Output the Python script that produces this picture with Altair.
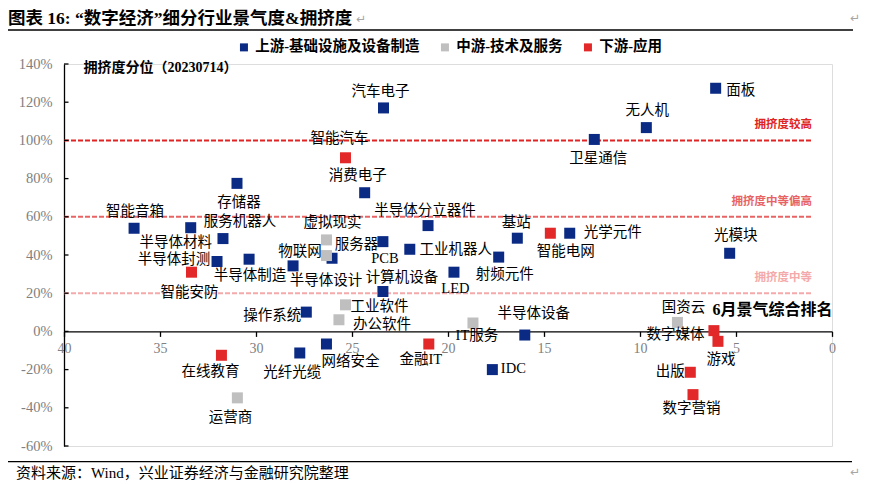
import altair as alt
import pandas as pd

# ---------------- data ----------------
up_names = ["面板", "无人机", "卫星通信", "汽车电子", "消费电子", "存储器", "智能音箱", "半导体材料",
            "服务机器人", "半导体封测", "半导体制造", "物联网", "半导体设计", "半导体分立器件", "PCB",
            "工业机器人", "射频元件", "基站", "光学元件", "光模块", "计算机设备", "LED", "操作系统",
            "光纤光缆", "网络安全", "半导体设备", "IDC"]
up_rank = [6.06, 9.67, 12.38, 23.36, 24.34, 30.99, 36.35, 33.40, 31.72, 32.03, 30.36, 28.07, 26.04,
           21.04, 23.39, 21.99, 17.36, 16.39, 13.66, 5.33, 23.39, 19.69, 27.38, 27.72, 26.33, 16.0, 17.69]
up_crowd = [127.3, 106.7, 100.5, 117.0, 72.6, 77.5, 54.0, 54.3, 48.6, 36.6, 37.8, 34.3, 38.3,
            55.4, 47.0, 43.0, 38.9, 48.8, 51.4, 40.9, 20.9, 31.0, 10.1, -11.3, -6.6, -1.9, -20.0]

mid_names = ["虚拟现实", "服务器", "工业软件", "办公软件", "IT服务", "国资云", "运营商"]
mid_rank = [26.33, 26.33, 25.34, 25.68, 18.70, 8.05, 30.97]
mid_crowd = [47.9, 39.7, 13.9, 6.1, 4.4, 4.7, -34.8]

down_names = ["智能汽车", "智能安防", "智能电网", "在线教育", "金融IT", "数字媒体", "游戏", "出版", "数字营销"]
down_rank = [25.34, 33.36, 14.67, 31.80, 21.0, 6.15, 5.94, 7.38, 7.24]
down_crowd = [90.9, 31.0, 51.4, -12.5, -6.6, 0.4, -5.2, -21.4, -33.1]

group_names = ["上游-基础设施及设备制造", "中游-技术及服务", "下游-应用"]
group_colors = ["#0A2A84", "#BFBFBF", "#E22828"]

levels = [100, 60, 20]
level_texts = ["拥挤度较高", "拥挤度中等偏高", "拥挤度中等"]
level_colors = ["#E02424", "#E86464", "#F4AAAA"]

y_ticks = [-60, -40, -20, 0, 20, 40, 60, 80, 100, 120, 140]
x_ticks = [0, 5, 10, 15, 20, 25, 30, 35, 40]

title_text = "图表 16: “数字经济”细分行业景气度&拥挤度"
source_text = "资料来源：Wind，兴业证券经济与金融研究院整理"
y_title = "拥挤度分位（20230714）"
x_title = "6月景气综合排名"

# label placement (pixel offsets of the label centre from its square) - style only
label_offsets = {
    "面板": (25, 3), "无人机": (1, -17), "卫星通信": (4, 20), "汽车电子": (-3, -16), "消费电子": (-7, -17),
    "存储器": (2, 20), "智能音箱": (1, -16), "半导体材料": (-15, 15), "服务机器人": (17, -17),
    "半导体封测": (-43, -1), "半导体制造": (1, 17), "物联网": (7, -14), "半导体设计": (-6, 23),
    "半导体分立器件": (-3, -15), "PCB": (2, 17), "工业机器人": (46, 1), "射频元件": (6, 18), "基站": (-1, -15),
    "光学元件": (43, 0), "光模块": (6, -17), "计算机设备": (19, -13), "LED": (1.5, 17), "操作系统": (-34, 4),
    "光纤光缆": (-7.5, 20), "网络安全": (24, 18), "半导体设备": (9, -21), "IDC": (21, -1),
    "虚拟现实": (6, -17), "服务器": (30, -11), "工业软件": (34, 2), "办公软件": (43, 5), "IT服务": (4, 13),
    "国资云": (6, -14), "运营商": (-7, 20), "智能汽车": (-6, -19), "智能安防": (-2, 21),
    "智能电网": (15.5, 19), "在线教育": (-11, 17), "金融IT": (-8, 16), "数字媒体": (-38.5, 4),
    "游戏": (3, 19), "出版": (-20, 0), "数字营销": (-1.5, 14),
}

# ---------------- layout ----------------
W, H = 768, 382
X_DOM = [0, 40]
Y_DOM = [-60, 140]
FONT = "Liberation Serif, Noto Sans CJK SC"

rows = []
for g, ns, xs_, ys_ in [(group_names[0], up_names, up_rank, up_crowd),
                        (group_names[1], mid_names, mid_rank, mid_crowd),
                        (group_names[2], down_names, down_rank, down_crowd)]:
    for n, xv, yv in zip(ns, xs_, ys_):
        rows.append({"name": n, "group": g, "rank": xv, "crowd": yv})
df = pd.DataFrame(rows)
px_x = (X_DOM[1] - X_DOM[0]) / W
px_y = (Y_DOM[1] - Y_DOM[0]) / H
df["lx"] = [r - label_offsets[n][0] * px_x for n, r in zip(df["name"], df["rank"])]
df["ly"] = [c - label_offsets[n][1] * px_y for n, c in zip(df["name"], df["crowd"])]

xs = alt.Scale(domain=X_DOM, reverse=True, nice=False, zero=False)
ys = alt.Scale(domain=Y_DOM, nice=False, zero=False)

x_axis_offset = -H * (0 - Y_DOM[0]) / (Y_DOM[1] - Y_DOM[0])

x_axis = alt.Axis(
    values=x_ticks, offset=x_axis_offset, tickSize=5, tickColor="black", tickWidth=1.3,
    domainColor="black", domainWidth=1.3, labelPadding=5, labelColor="#808080",
    labelFont="Liberation Serif", labelFontSize=14, labelFlush=False, grid=False,
    title=x_title, titleX=708, titleY=-22, titleAlign="center", titleBaseline="middle",
    titleFont=FONT, titleFontSize=16, titleFontWeight="bold", titleColor="black")
y_axis = alt.Axis(
    values=y_ticks, labelExpr="datum.value + '%'", ticks=False, labelPadding=12,
    domainColor="black", domainWidth=1.3, labelColor="#808080", labelFont="Liberation Serif",
    labelFontSize=14.5, labelFlush=False, grid=False,
    title=y_title, titleAngle=0, titleAlign="left", titleBaseline="middle", titleX=19, titleY=3,
    titleFont=FONT, titleFontSize=14, titleFontWeight="bold", titleColor="black")

lev_df = pd.DataFrame({"level": levels, "label": level_texts, "color": level_colors})

ref_rules = alt.Chart(lev_df).mark_rule(strokeDash=[5, 2], strokeWidth=2).encode(
    y=alt.Y("level:Q", scale=ys, axis=y_axis),
    x=alt.value(0), x2=alt.value(748),
    stroke=alt.Stroke("color:N", scale=None),
)
ref_text = alt.Chart(lev_df).mark_text(align="right", baseline="middle", dy=-15, font="Noto Sans CJK SC",
                                       fontSize=11.5, fontWeight="bold").encode(
    y=alt.Y("level:Q", scale=ys, axis=y_axis),
    x=alt.value(748),
    text="label:N",
    fill=alt.Fill("color:N", scale=None),
)

yt_df = pd.DataFrame({"v": y_ticks})
y_tick_marks = alt.Chart(yt_df).mark_rule(color="black", strokeWidth=1.3).encode(
    y=alt.Y("v:Q", scale=ys, axis=y_axis), x=alt.value(0), x2=alt.value(4.5)
)

squares = alt.Chart(df).mark_square(size=121, opacity=1, filled=True).encode(
    x=alt.X("rank:Q", scale=xs, axis=x_axis),
    y=alt.Y("crowd:Q", scale=ys, axis=y_axis),
    color=alt.Color("group:N", scale=alt.Scale(domain=group_names, range=group_colors),
                    legend=alt.Legend(title=None, orient="none", legendX=172.7, legendY=-24,
                                      direction="horizontal", symbolType="square", symbolSize=64,
                                      symbolStrokeWidth=0, labelFont=FONT, labelFontSize=14.5,
                                      labelFontWeight="bold", labelColor="black", labelOffset=4,
                                      columnPadding=18, labelLimit=400, padding=0)),
)

labels = alt.Chart(df).mark_text(font=FONT, fontSize=14.5, color="black", baseline="middle",
                                 align="center").encode(
    x=alt.X("lx:Q", scale=xs, axis=x_axis),
    y=alt.Y("ly:Q", scale=ys, axis=y_axis),
    text="name:N",
)

def deco_text(txt, x, y, **kw):
    return alt.Chart(pd.DataFrame({"t": [txt]})).mark_text(**kw).encode(
        text="t:N", x=alt.value(x), y=alt.value(y))

title = deco_text(title_text, -56, -45, font=FONT, fontSize=17.5, fontWeight="bold",
                  align="left", baseline="middle", color="black")
source = deco_text(source_text, -48, 409, font=FONT, fontSize=15, align="left",
                   baseline="middle", color="black")
ret1 = deco_text("↵", 791, -46, font="DejaVu Sans", fontSize=12, color="#A6A6A6", baseline="middle")
ret2 = deco_text("↵", 791, 408, font="DejaVu Sans", fontSize=12, color="#A6A6A6", baseline="middle")
ret3 = deco_text("↵", 297, -45, font="DejaVu Sans", fontSize=12, color="#A6A6A6", baseline="middle")

line_df = pd.DataFrame({"k": [0]})
top_line = alt.Chart(line_df).mark_rule(color="black", strokeWidth=1.5).encode(
    x=alt.value(-56), x2=alt.value(789), y=alt.value(-34))
bot_line = alt.Chart(line_df).mark_rule(color="black", strokeWidth=1.3).encode(
    x=alt.value(-56), x2=alt.value(788), y=alt.value(397.7))

chart = alt.layer(
    ref_rules, ref_text, y_tick_marks, squares, labels,
    title, source, ret1, ret2, ret3, top_line, bot_line,
).properties(
    width=W, height=H,
    autosize=alt.AutoSizeParams(type="none"),
    padding={"left": 56, "top": 56, "right": 31, "bottom": 36},
).configure_view(strokeWidth=0).configure(background="white")

chart.save("out.html", embed_options={"renderer": "svg", "actions": False})
